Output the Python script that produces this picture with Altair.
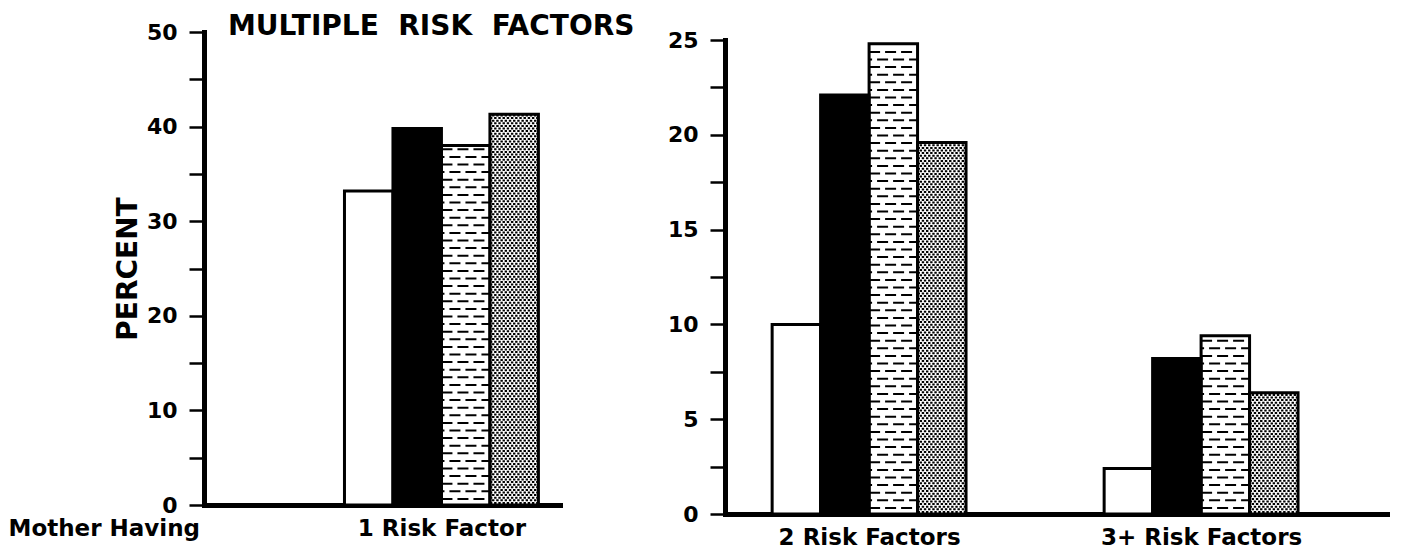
import json
import pandas as pd
import altair as alt

# ---------------- data ----------------
SERIES = ["white", "black", "dashed", "dotted"]
LEFT_GROUPS = ["1 Risk Factor"]
LEFT_VALUES = [[33.2, 39.8, 38.0, 41.3]]
RIGHT_GROUPS = ["2 Risk Factors", "3+ Risk Factors"]
RIGHT_VALUES_2 = [10.0, 22.1, 24.8, 19.6]
RIGHT_VALUES_3 = [2.4, 8.2, 9.4, 6.4]
LEFT_TICKS = [0, 5, 10, 15, 20, 25, 30, 35, 40, 45, 50]
RIGHT_TICKS = [0, 2.5, 5, 7.5, 10, 12.5, 15, 17.5, 20, 22.5, 25]
TITLE = "MULTIPLE \u00a0RISK \u00a0FACTORS"
Y_TITLE = "PERCENT"
LEFT_NOTE = "Mother Having"

# ---------------- style / layout ----------------
FONT = "DejaVu Sans"
FILLS = ["white", "black", "white", "white"]
BAND = 0.584          # fraction of a group step covered by the 4 bars
LW, LH = 356, 473
RW, RH, R_TOP = 665, 482, 8
L_XDOM = [-0.715, 0.357]
R_XDOM = [-0.434, 1.569]
DASH_PX, DOT_PX = 7.6, 2.6


def bar_table(groups, values):
    rows = []
    for gi, g in enumerate(groups):
        for si, s in enumerate(SERIES):
            x0 = gi - BAND / 2 + si * BAND / 4
            rows.append(dict(group=g, series=s, x0=x0, x1=x0 + BAND / 4,
                             v=values[gi][si], base=0.0))
    return pd.DataFrame(rows)


def texture_table(bars, series, step):
    rows = []
    for _, b in bars[bars.series == series].iterrows():
        k = 0
        y = step * 0.8
        while y < b.v - step * 0.4:
            rows.append(dict(x0=b.x0, x1=b.x1, lv=y, par=k % 2))
            y += step
            k += 1
    return pd.DataFrame(rows)


def panel(groups, values, width, height, ymax, ticks, major, yrange, xdom,
          ytitle=None, extras=()):
    bars = bar_table(groups, values)
    plot_h = yrange[0] - yrange[1]
    dash = texture_table(bars, "dashed", DASH_PX * ymax / plot_h)
    dots = texture_table(bars, "dotted", DOT_PX * ymax / plot_h)

    labels = json.dumps(groups)
    xaxis = alt.Axis(values=list(range(len(groups))),
                     labelExpr=f"{labels}[datum.value]",
                     ticks=False, grid=False, domainWidth=5, domainColor="black",
                     domainCap="square",
                     labelFont=FONT, labelFontSize=23, labelFontWeight="bold",
                     labelColor="black", labelPadding=12, labelOverlap=False,
                     labelFlush=False, labelLimit=0, title=None)
    yaxis_kw = dict(values=ticks,
                    labelExpr=f"datum.value % {major} == 0 ? format(datum.value, 'd') : ''",
                    tickSize=15, tickWidth=2.5, tickColor="black",
                    domainWidth=5, domainColor="black", domainCap="square",
                    grid=False, labelFont=FONT, labelFontSize=22,
                    labelFontWeight="bold", labelColor="black", labelPadding=12,
                    labelOverlap=False, labelFlush=False, labelLimit=0)
    if ytitle:
        yaxis = alt.Axis(title=ytitle, titleFont=FONT, titleFontSize=28,
                         titleFontWeight="bold", titleColor="black",
                         titlePadding=4, **yaxis_kw)
    else:
        yaxis = alt.Axis(title=None, **yaxis_kw)

    xs = alt.Scale(domain=xdom, nice=False, zero=False)
    ys = alt.Scale(domain=[0, ymax], range=yrange, nice=False, zero=True)

    def X():
        return alt.X("x0:Q", scale=xs, axis=xaxis)

    def Y(f):
        return alt.Y(f"{f}:Q", scale=ys, axis=yaxis)

    fills = alt.Chart(bars).mark_rect(strokeWidth=0).encode(
        x=X(), x2="x1:Q", y=Y("v"), y2="base:Q",
        fill=alt.Fill("series:N", scale=alt.Scale(domain=SERIES, range=FILLS),
                      legend=None))
    layers = [fills]
    for par, off in [(0, 0), (1, 8)]:
        layers.append(alt.Chart(dash[dash.par == par]).mark_rule(
            color="black", strokeWidth=2, strokeDash=[11, 5], strokeDashOffset=off
        ).encode(x=X(), x2="x1:Q", y=Y("lv")))
    for par, off in [(0, 0), (1, 2.1)]:
        layers.append(alt.Chart(dots[dots.par == par]).mark_rule(
            color="black", strokeWidth=2, strokeDash=[2.4, 1.8], strokeDashOffset=off
        ).encode(x=X(), x2="x1:Q", y=Y("lv")))
    outline = alt.Chart(bars).mark_rect(
        fillOpacity=0, stroke="black", strokeWidth=3
    ).encode(x=X(), x2="x1:Q", y=Y("v"), y2="base:Q")
    layers.append(outline)
    layers.extend(extras)
    return alt.layer(*layers).properties(width=width, height=height)


note_df = pd.DataFrame({"t": [TITLE], "n": [LEFT_NOTE]})
title_mark = alt.Chart(note_df).mark_text(
    align="left", baseline="alphabetic", font=FONT, fontSize=28,
    fontWeight="bold", color="black"
).encode(x=alt.value(24), y=alt.value(3), text="t:N")
note_mark = alt.Chart(note_df).mark_text(
    align="right", baseline="alphabetic", font=FONT, fontSize=23,
    fontWeight="bold", color="black"
).encode(x=alt.value(-4), y=alt.value(LH + 31), text="n:N")

left = panel(LEFT_GROUPS, LEFT_VALUES, LW, LH, 50, LEFT_TICKS, 10, [LH, 0],
             L_XDOM, ytitle=Y_TITLE, extras=(title_mark, note_mark))
right = panel(RIGHT_GROUPS, [RIGHT_VALUES_2, RIGHT_VALUES_3], RW, RH, 25,
              RIGHT_TICKS, 5, [RH, R_TOP], R_XDOM)

chart = alt.hconcat(left, right, spacing=165, bounds="flush").configure_view(
    stroke=None
).properties(padding={"left": 0, "top": 5, "right": 0, "bottom": 0})

chart.save("out.html", embed_options={"renderer": "svg", "actions": False})
